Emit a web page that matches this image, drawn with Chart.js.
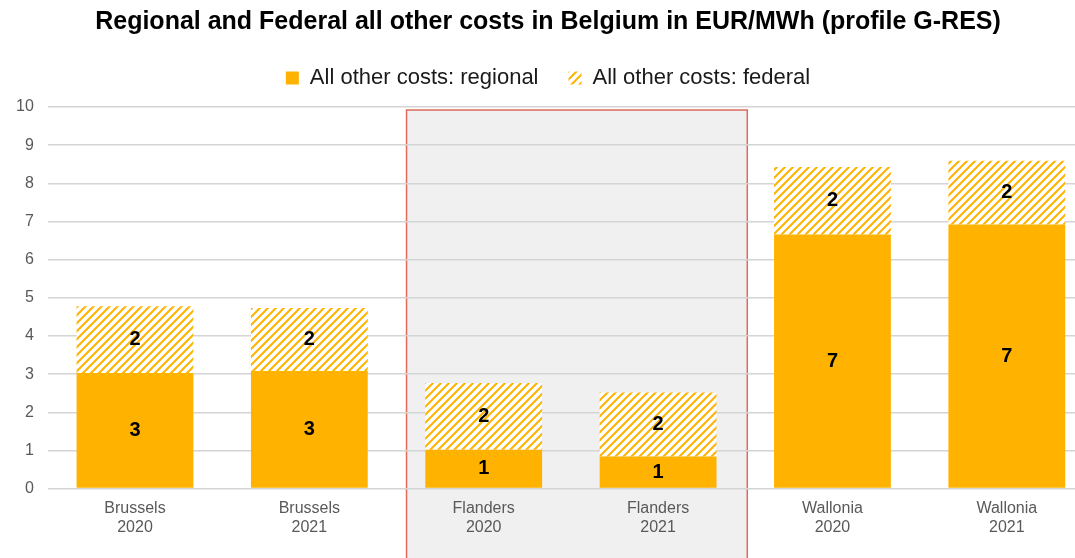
<!DOCTYPE html>
<html>
<head>
<meta charset="utf-8">
<script src="https://cdn.jsdelivr.net/npm/chart.js@4"></script>
<style>
  html, body { margin: 0; padding: 0; background: #fff; overflow: hidden; }
  #wrap { width: 1100px; height: 558px; }
</style>
</head>
<body>
<div id="wrap"><canvas id="chart"></canvas></div>
<script>
// chart data
const categories = [['Brussels', '2020'], ['Brussels', '2021'], ['Flanders', '2020'], ['Flanders', '2021'], ['Wallonia', '2020'], ['Wallonia', '2021']];
const regional = [3.03, 3.08, 1.02, 0.84, 6.66, 6.92];
const federal = [1.75, 1.65, 1.75, 1.68, 1.77, 1.67];
const seriesNames = ['All other costs: regional', 'All other costs: federal'];
const highlighted = [2, 3]; // Flanders columns

const orange = '#ffb300';
const font = '"Liberation Sans", Arial, sans-serif';

// diagonal hatch for the federal part
const makeHatch = () => {
    const c = document.createElement('canvas');
    c.width = 8; c.height = 8;
    const g = c.getContext('2d');
    g.fillStyle = '#fff';
    g.fillRect(0, 0, 8, 8);
    g.strokeStyle = orange;
    g.lineWidth = 2;
    g.beginPath();
    g.moveTo(-2, 10); g.lineTo(10, -2);
    g.moveTo(-6, 6); g.lineTo(6, -6);
    g.moveTo(2, 14); g.lineTo(14, 2);
    g.stroke();
    return g.createPattern(c, 'repeat');
};

const ctx = document.getElementById('chart').getContext('2d');
const hatch = makeHatch();

const backgroundPlugin = {
    id: 'background',
    beforeDraw(chart) {
        const c = chart.ctx;
        c.save();
        c.fillStyle = '#fff';
        c.fillRect(0, 0, chart.width, chart.height);
        // shaded box round the Flanders columns
        const x = chart.scales.x, y = chart.scales.y;
        const half = (x.getPixelForValue(1) - x.getPixelForValue(0)) / 2;
        const left = x.getPixelForValue(highlighted[0]) - half + 10;
        const right = x.getPixelForValue(highlighted[1]) + half + 2;
        const top = y.getPixelForValue(10) + 3;
        c.fillStyle = '#f0f0f0';
        c.fillRect(left, top, right - left, chart.height - top + 5);
        c.strokeStyle = '#e06a5c';
        c.lineWidth = 1.5;
        c.strokeRect(left, top, right - left, chart.height - top + 5);
        c.restore();
    }
};

// extra room under the legend
const legendGap = {
    id: 'legendGap',
    beforeInit(chart) {
        const fit = chart.legend.fit;
        chart.legend.fit = function () {
            fit.bind(chart.legend)();
            this.height += 8;
        };
    }
};

const valueLabels = {
    id: 'valueLabels',
    afterDatasetsDraw(chart) {
        const c = chart.ctx;
        c.save();
        c.font = 'bold 20px ' + font;
        c.fillStyle = '#000';
        c.textAlign = 'center';
        c.textBaseline = 'middle';
        chart.data.datasets.forEach((ds, i) => {
            chart.getDatasetMeta(i).data.forEach((bar, j) => {
                const mid = (bar.y + bar.base) / 2;
                c.fillText(Math.round(ds.data[j]), bar.x, mid);
            });
        });
        c.restore();
    }
};

new Chart(ctx, {
    type: 'bar',
    data: {
        labels: categories,
        datasets: [
            { label: seriesNames[0], data: regional, backgroundColor: orange },
            { label: seriesNames[1], data: federal, backgroundColor: hatch }
        ]
    },
    options: {
        responsive: true,
        maintainAspectRatio: false,
        animation: false,
        devicePixelRatio: 1,
        layout: { padding: { left: 2, right: 6, top: 4, bottom: 19 } },
        datasets: { bar: { barPercentage: 1, categoryPercentage: 0.67 } },
        plugins: {
            title: {
                display: true,
                text: 'Regional and Federal all other costs in Belgium in EUR/MWh (profile G-RES)',
                color: '#000',
                font: { family: font, size: 25, weight: 'bold' },
                padding: { top: 3, bottom: 0 }
            },
            legend: {
                position: 'top',
                labels: {
                    color: '#1a1a1a',
                    font: { family: font, size: 22 },
                    boxWidth: 13,
                    boxHeight: 13,
                    padding: 30
                }
            },
            tooltip: { enabled: false }
        },
        scales: {
            x: {
                stacked: true,
                grid: { display: false },
                border: { display: false },
                ticks: {
                    color: '#595959',
                    font: { family: font, size: 16 },
                    padding: 2
                }
            },
            y: {
                stacked: true,
                min: 0,
                max: 10,
                ticks: {
                    stepSize: 1,
                    color: '#595959',
                    font: { family: font, size: 16 },
                    padding: 14
                },
                grid: { color: '#d4d4d4', lineWidth: 1.5, drawTicks: false },
                border: { display: false }
            }
        }
    },
    plugins: [legendGap, backgroundPlugin, valueLabels]
});
</script>
</body>
</html>
